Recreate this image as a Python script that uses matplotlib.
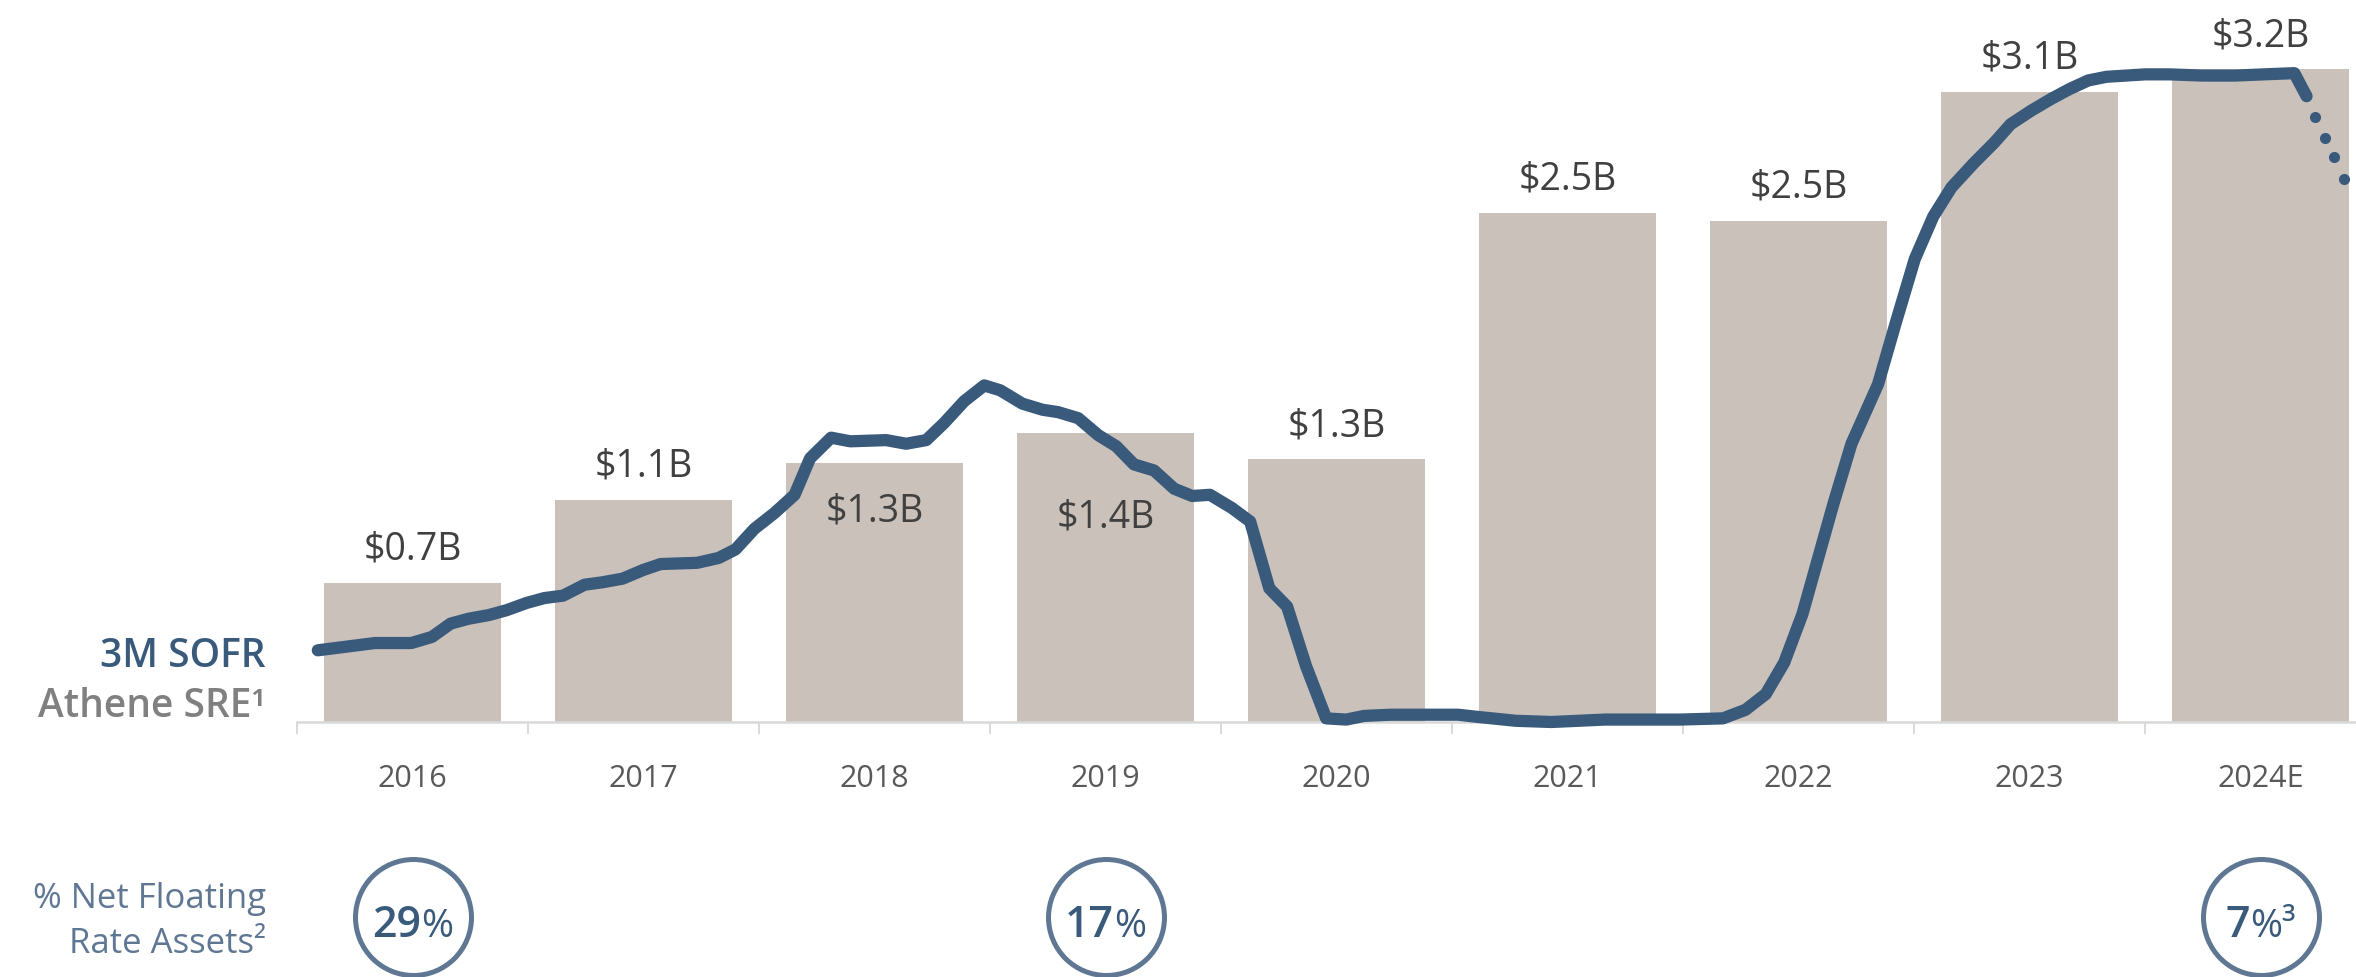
import matplotlib
matplotlib.use("Agg")
import matplotlib.pyplot as plt
import matplotlib.transforms as mtransforms
import numpy as np

plt.rcParams['font.family'] = ['Open Sans', 'DejaVu Sans']

# Athene SRE by year ($B)
years = ['2016', '2017', '2018', '2019', '2020', '2021', '2022', '2023', '2024E']
sre = [0.69, 1.10, 1.28, 1.43, 1.30, 2.52, 2.48, 3.12, 3.23]
sre_labels = ['$0.7B', '$1.1B', '$1.3B', '$1.4B', '$1.3B', '$2.5B', '$2.5B', '$3.1B', '$3.2B']

# 3M SOFR (%), time in decimal years
sofr_t = [2016.090, 2016.337, 2016.414, 2016.495, 2016.584, 2016.665, 2016.743, 2016.830,
          2016.907, 2016.994, 2017.071, 2017.152, 2017.245, 2017.323, 2017.410, 2017.497,
          2017.574, 2017.732, 2017.825, 2017.898, 2017.980, 2018.067, 2018.154, 2018.221,
          2018.312, 2018.395, 2018.550, 2018.637, 2018.724, 2018.801, 2018.888, 2018.975,
          2019.044, 2019.140, 2019.227, 2019.295, 2019.382, 2019.469, 2019.546, 2019.623,
          2019.710, 2019.797, 2019.875, 2019.952, 2020.048, 2020.126, 2020.209, 2020.286,
          2020.368, 2020.455, 2020.542, 2020.619, 2020.735, 2021.025, 2021.121, 2021.276,
          2021.430, 2021.662, 2021.855, 2021.987, 2022.173, 2022.270, 2022.358, 2022.438,
          2022.517, 2022.579, 2022.650, 2022.729, 2022.844, 2022.923, 2023.003, 2023.083,
          2023.162, 2023.259, 2023.348, 2023.418, 2023.506, 2023.595, 2023.674, 2023.754,
          2023.833, 2024.001, 2024.107, 2024.248, 2024.390, 2024.514, 2024.646, 2024.699]
sofr = [0.59, 0.65, 0.65, 0.65, 0.70, 0.81, 0.85, 0.88,
        0.92, 0.98, 1.02, 1.04, 1.13, 1.15, 1.18, 1.25,
        1.30, 1.31, 1.35, 1.42, 1.59, 1.72, 1.87, 2.17,
        2.34, 2.31, 2.32, 2.29, 2.32, 2.46, 2.64, 2.77,
        2.73, 2.62, 2.57, 2.55, 2.50, 2.36, 2.27, 2.12,
        2.07, 1.92, 1.86, 1.87, 1.76, 1.65, 1.10, 0.95,
        0.46, 0.03, 0.02, 0.05, 0.06, 0.06, 0.04, 0.01,
        0.00, 0.02, 0.02, 0.02, 0.03, 0.10, 0.23, 0.49,
        0.89, 1.31, 1.79, 2.29, 2.78, 3.30, 3.81, 4.16,
        4.40, 4.60, 4.77, 4.92, 5.03, 5.13, 5.21, 5.28,
        5.31, 5.33, 5.33, 5.32, 5.32, 5.33, 5.34, 5.15]
# forward curve (dotted)
fwd_t = [2024.736, 2024.779, 2024.818, 2024.861]
fwd = [4.98, 4.81, 4.65, 4.47]

# % net floating rate assets
nfa_idx = [0, 3, 8]
nfa_vals = ['29', '17', '7']
nfa_sup = ['', '', '\u00b3']

BAR = '#c9c1ba'
NAVY = '#3a5a7b'
SLATE = '#5f7793'
DARK = '#404040'

fig = plt.figure(figsize=(23.56, 9.77), dpi=100)
ax = fig.add_axes([297 / 2356, 255 / 977, 1 - 297 / 2356, 722 / 977])

x = np.arange(len(years))
ax.bar(x, sre, width=0.765, color=BAR, zorder=1)
ax.set_xlim(-0.5, 8.413)
ax.set_ylim(0, 3.574)

# value labels (2018/2019 sit inside the bar, under the curve)
inside = {2: -41.8, 3: -67.7}
for i, (v, lab) in enumerate(zip(sre, sre_labels)):
    dy = inside.get(i, 16.6)
    ax.annotate(lab, (i, v), xytext=(0, dy), textcoords='offset points',
                ha='center', va='baseline', fontsize=27, color=DARK)

for s in ['top', 'right', 'left']:
    ax.spines[s].set_visible(False)
ax.spines['bottom'].set_color('#d9d9d9')
ax.spines['bottom'].set_linewidth(1.8)
ax.set_yticks([])
ax.set_xticks(x)
ax.set_xticklabels(years, fontsize=22, color='#595959')
ax.tick_params(axis='x', which='major', length=0, pad=30)
ax.set_xticks(np.arange(-0.5, 8.5, 1.0), minor=True)
ax.tick_params(axis='x', which='minor', length=8.6, width=1.4, color='#d9d9d9')

# SOFR curve on its own scale
ax2 = ax.twinx()
ax2.set_ylim(0, 5.942)
ax2.axis('off')
ax2.plot(np.array(sofr_t) - 2016.5, sofr, color=NAVY, lw=8.8,
         solid_capstyle='round', solid_joinstyle='round', clip_on=False)
ax2.plot(np.array(fwd_t) - 2016.5, fwd, 'o', color=NAVY, ms=8, mew=0, clip_on=False)

# left side labels
fx = 266 / 2356
fig.text(fx, 1 - 667 / 977, '3M SOFR', ha='right', va='baseline', fontsize=28,
         fontweight='semibold', color=NAVY)
fig.text(fx, 1 - 717 / 977, 'Athene SRE\u00b9', ha='right', va='baseline', fontsize=28,
         fontweight='semibold', color='#808080')
fig.text(fx, 1 - 908 / 977, '% Net Floating', ha='right', va='baseline', fontsize=25, color=SLATE)
fig.text(fx, 1 - 953 / 977, 'Rate Assets\u00b2', ha='right', va='baseline', fontsize=25, color=SLATE)

# circles with % net floating rate assets
bt = mtransforms.blended_transform_factory(ax.transData, ax.transAxes)
cy = (722 - 916.5) / 722
ax.plot(nfa_idx, [cy] * len(nfa_idx), 'o', transform=bt, clip_on=False, ms=83.5,
        mfc='white', mec=SLATE, mew=3.6, zorder=5)

renderer = fig.canvas.get_renderer()
by = (722 - 937) / 722
for i, num, sup in zip(nfa_idx, nfa_vals, nfa_sup):
    t1 = ax.text(i, by, num, transform=bt, ha='right', va='baseline', fontsize=31,
                 fontweight='semibold', color=NAVY, zorder=6, clip_on=False)
    t2 = ax.text(i, by, '%' + sup, transform=bt, ha='left', va='baseline', fontsize=28,
                 color=NAVY, zorder=6, clip_on=False)
    w1 = t1.get_window_extent(renderer).width
    w2 = t2.get_window_extent(renderer).width
    shift = mtransforms.ScaledTranslation((w1 - w2) / 2 / fig.dpi, 0, fig.dpi_scale_trans)
    t1.set_transform(bt + shift)
    t2.set_transform(bt + shift)

fig.savefig('out.png', dpi=100)
